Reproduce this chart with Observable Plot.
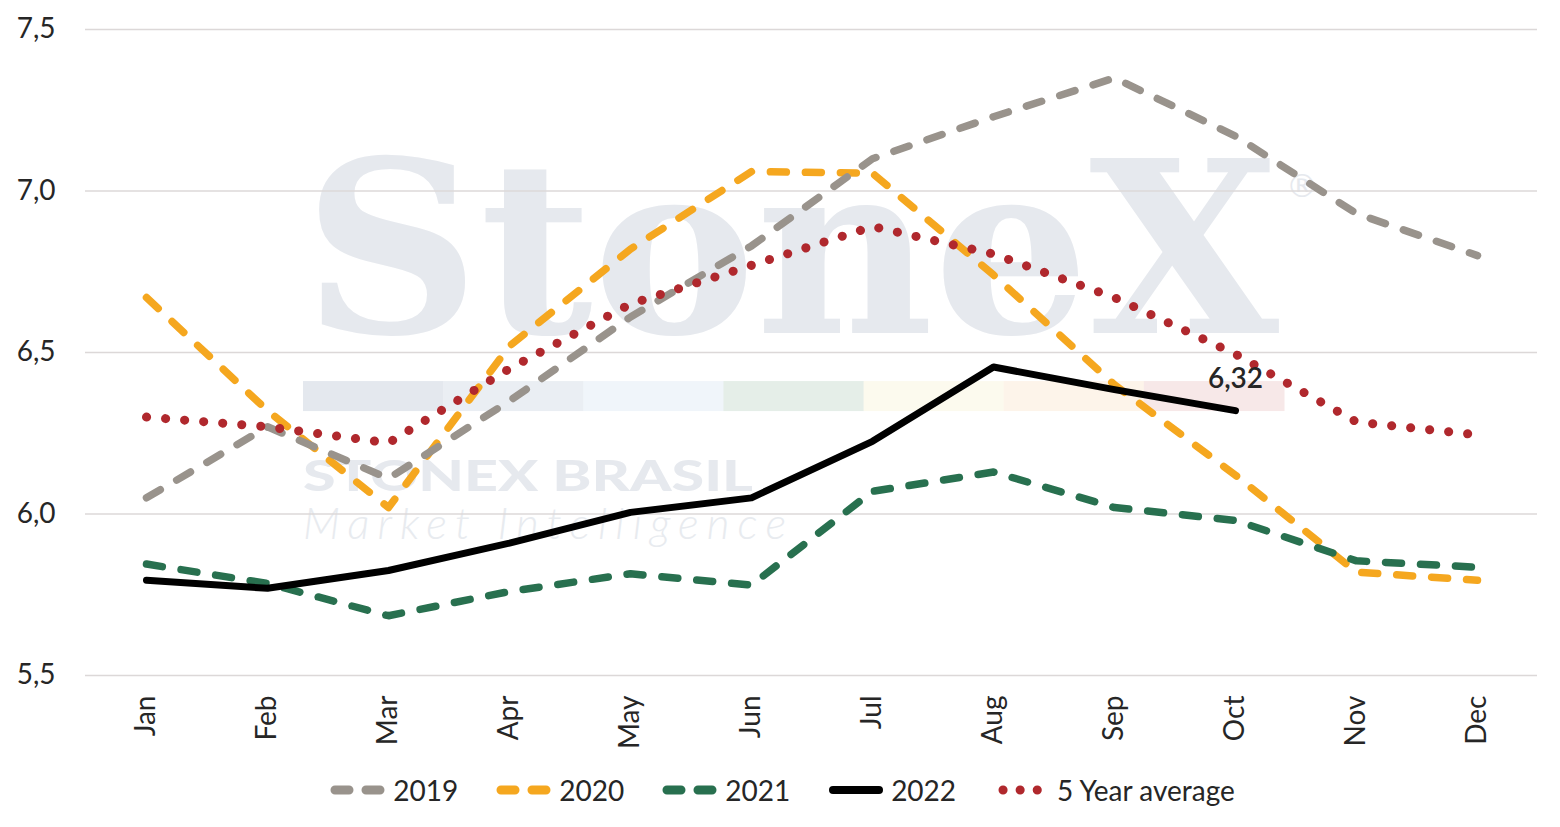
<!DOCTYPE html>
<html><head><meta charset="utf-8">
<script src="https://cdn.jsdelivr.net/npm/d3@7"></script>
<script src="https://cdn.jsdelivr.net/npm/@observablehq/plot@0.6"></script>
<style>
body{margin:0;background:#fff;font-family:Lato,"Open Sans",sans-serif;}
#wrap{width:1560px;}
#legend{display:flex;justify-content:center;align-items:center;gap:37px;font-size:28px;color:#262626;height:60px;padding-left:4px;}
.item{display:flex;align-items:center;gap:6px;}
.item svg{display:block}
</style></head><body>
<div id="wrap"><div id="chart"></div><div id="legend"></div></div>
<script>
const months = ["Jan","Feb","Mar","Apr","May","Jun","Jul","Aug","Sep","Oct","Nov","Dec"];
const y2019 = [6.05, 6.27, 6.11, 6.35, 6.61, 6.83, 7.10, 7.23, 7.35, 7.17, 6.93, 6.80];
const y2020 = [6.67, 6.32, 6.02, 6.52, 6.82, 7.06, 7.055, 6.74, 6.40, 6.12, 5.82, 5.795];
const y2021 = [5.845, 5.785, 5.685, 5.76, 5.815, 5.78, 6.07, 6.13, 6.02, 5.98, 5.855, 5.835];
const y2022 = [5.795, 5.77, 5.825, 5.91, 6.005, 6.05, 6.225, 6.455, 6.385, 6.32];
const avg5 = [6.30, 6.27, 6.22, 6.45, 6.65, 6.77, 6.89, 6.805, 6.67, 6.495, 6.285, 6.245];
const yTicks = [5.5, 6.0, 6.5, 7.0, 7.5];

const fmt1 = v => d3.format(".1f")(v).replace(".", ",");
const fmt2 = v => d3.format(".2f")(v).replace(".", ",");

const series = [
  {name:"2020", values:y2020, color:"#f5a71f", dash:"16,19", width:7.5},
  {name:"2019", values:y2019, color:"#99938c", dash:"16,19", width:7.5},
  {name:"2021", values:y2021, color:"#28704f", dash:"16,19", width:7.5},
  {name:"2022", values:y2022, color:"#000000", dash:null, width:7},
  {name:"5 Year average", values:avg5, color:"#b0282d", dash:"0.1,19", width:9}
];
const legendOrder = ["2019","2020","2021","2022","5 Year average"];

const marks = [Plot.ruleY(yTicks, {stroke:"#dcd8d8", strokeWidth:1.6})];
for (const s of series) {
  const data = s.values.map((v,i)=>({month:months[i], value:v}));
  const opts = {x:"month", y:"value", stroke:s.color, strokeWidth:s.width, strokeLinecap:"round", strokeLinejoin:"round"};
  if (s.dash) opts.strokeDasharray = s.dash;
  marks.push(Plot.line(data, opts));
}
const last = [{month: months[y2022.length-1], value: y2022[y2022.length-1]}];
marks.push(Plot.text(last, {x:"month", y:"value", text: d => fmt2(d.value), dy:-32, fontSize:28, fontWeight:600, fill:"#262626"}));
marks.push(Plot.axisY({ticks: yTicks, tickFormat: fmt1, tickSize:0, tickPadding:30, label:null}));
marks.push(Plot.axisX({tickRotate:-90, tickSize:0, tickPadding:20, label:null}));

const plot = Plot.plot({
  width:1560, height:760,
  marginLeft:85, marginRight:23, marginTop:29, marginBottom:85,
  style:{fontSize:"28px", fontFamily:"Lato, 'Open Sans', sans-serif", color:"#262626", background:"transparent"},
  x:{type:"point", domain:months, padding:0.5},
  y:{domain:[5.5,7.5]},
  marks
});
document.getElementById("chart").appendChild(plot);

// Watermark (decorative)
const xs = plot.scale("x"), ysc = plot.scale("y");
const svg = d3.select(plot);
const g = svg.insert("g", ":first-child").attr("pointer-events","none").attr("text-anchor","start");
const wx0 = xs.apply("Feb") + 36, wx1 = xs.apply("Oct") + 49;
const wm = "#e6e9ee";
g.append("text").text("StoneX").attr("x", wx0).attr("y", ysc.apply(6.56))
  .attr("font-family","'DejaVu Serif', 'Liberation Serif', serif").attr("font-weight",700).attr("font-size",240)
  .attr("textLength", wx1 - wx0 - 5).attr("lengthAdjust","spacingAndGlyphs").attr("fill", wm);
g.append("text").text("®").attr("x", wx1 + 2).attr("y", ysc.apply(7.0) + 6)
  .attr("font-family","'DejaVu Sans', sans-serif").attr("font-size",32).attr("fill", wm);
const barCols = ["#e4e8ee","#eaeef3","#f0f5fa","#e5eee8","#fcfaee","#fdf4ea","#f7e8e8"];
const segW = (wx1 - wx0) / barCols.length;
barCols.forEach((c,i) => g.append("rect").attr("x", wx0 + i*segW).attr("y", ysc.apply(6.41)).attr("width", segW + 0.5).attr("height", 30).attr("fill", c));
g.append("text").text("STONEX BRASIL").attr("x", wx0).attr("y", ysc.apply(6.07))
  .attr("font-family","Lato, sans-serif").attr("font-weight",900).attr("font-size",42)
  .attr("textLength", 450).attr("lengthAdjust","spacingAndGlyphs").attr("fill", wm);
g.append("text").text("Market Intelligence").attr("x", wx0).attr("y", ysc.apply(5.92))
  .attr("font-family","Lato, sans-serif").attr("font-weight",300).attr("font-size",44).attr("font-style","italic")
  .attr("textLength", 483).attr("lengthAdjust","spacing").attr("fill", "#e8ebef");

// Legend
const leg = document.getElementById("legend");
for (const name of legendOrder) {
  const s = series.find(d => d.name === name);
  const item = document.createElement("div"); item.className = "item";
  const ns = "http://www.w3.org/2000/svg";
  const sw = document.createElementNS(ns, "svg");
  sw.setAttribute("width", 58); sw.setAttribute("height", 16);
  const ln = document.createElementNS(ns, "line");
  ln.setAttribute("x1", 6); ln.setAttribute("x2", 52); ln.setAttribute("y1", 8); ln.setAttribute("y2", 8);
  ln.setAttribute("stroke", s.color); ln.setAttribute("stroke-linecap", "round");
  if (name === "5 Year average") { ln.setAttribute("stroke-width", 9); ln.setAttribute("stroke-dasharray", "0.1,17"); ln.setAttribute("x1", 10); }
  else if (s.dash) { ln.setAttribute("stroke-width", 9); ln.setAttribute("stroke-dasharray", "14,17"); }
  else { ln.setAttribute("stroke-width", 8); }
  sw.appendChild(ln); item.appendChild(sw);
  const t = document.createElement("span"); t.textContent = name; item.appendChild(t);
  leg.appendChild(item);
}
</script>
</body></html>
